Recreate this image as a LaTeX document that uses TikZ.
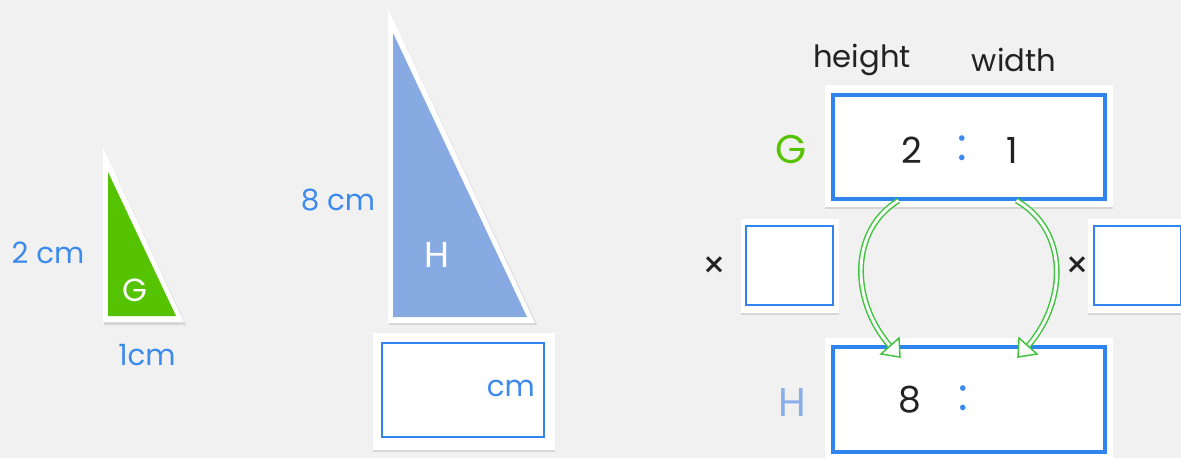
\documentclass[tikz,border=0pt]{standalone}
\usepackage{fontspec}
\setmainfont{Poppins}
\usetikzlibrary{calc}
\definecolor{bg}{HTML}{F1F1F1}
\definecolor{tblue}{HTML}{3C8AEE}
\definecolor{bblue}{HTML}{2F84EE}
\definecolor{tgreen}{HTML}{56C300}
\definecolor{hfill}{HTML}{88AAE2}
\definecolor{hlab}{HTML}{8AAEEA}
\definecolor{agreen}{HTML}{3EC43E}
\definecolor{dark}{HTML}{222222}
\definecolor{shadow}{HTML}{D6D6D6}
\tikzset{
  px/.style={x=0.75pt,y=-0.75pt},
  lbl/.style={inner sep=0pt,font=\fontsize{22}{24}\selectfont},
  bluelbl/.style={lbl,text=tblue},
  numlbl/.style={inner sep=0pt,text=dark,font=\fontsize{27}{30}\selectfont},
  colon/.style={inner sep=0pt,text=tblue,font=\fontsize{34}{36}\selectfont},
  ansbox/.style={draw=bblue,fill=white,line width=1.8pt,inner sep=0pt},
  ratiobox/.style={draw=bblue,fill=white,line width=2.3pt,inner sep=0pt,minimum width=204pt},
  garrow/.style={draw=agreen,line width=1.1pt,double=white!60!bg,double distance=2.2pt},
  ghead/.style={draw=agreen,line width=1.1pt,fill=white,line join=miter},
}
\begin{document}
\begin{tikzpicture}[px]
\useasboundingbox (0,0) rectangle (1181,458);
\fill[bg] (0,0) rectangle (1181,458);
% triangle G
\fill[shadow] (104,149) -- (104,325) -- (186,325) -- cycle;
\fill[white] (103,147) -- (103,322) -- (184,322) -- cycle;
\fill[tgreen] (108,172) -- (108,316) -- (176,316) -- cycle;
\node[lbl,text=white,font=\fontsize{24}{26}\selectfont] (gl) at (135,290) {G};
\node[bluelbl] (g2) at (48,253) {2 cm};
\node[bluelbl] (g1) at (147,355) {1cm};
% triangle H
\fill[shadow] (389,10) -- (389,325) -- (537,325) -- cycle;
\fill[white] (388,8) -- (388,323) -- (535,323) -- cycle;
\fill[hfill] (393,33) -- (393,317) -- (527,317) -- cycle;
\node[lbl,text=white,font=\fontsize{27}{29}\selectfont] (hl) at (437,255) {H};
\node[bluelbl] (h8) at (338,200) {8 cm};
% answer box under H
\fill[shadow] (373,335) rectangle (555,452);
\fill[white] (373,333) rectangle (555,450);
\node[ansbox,minimum width=121.5pt,minimum height=70.5pt] (hans) at (463,390) {};
\node[bluelbl,anchor=east] (hcm) at ($(hans.east)+(-10,-2)$) {cm};
% headings
\node[lbl,text=dark,font=\fontsize{23}{25}\selectfont] (hh) at (862,60) {height};
\node[lbl,text=dark,font=\fontsize{23}{25}\selectfont] (hw) at (1014,60) {width};
% ratio box G
\fill[shadow] (825,87) rectangle (1113,209);
\fill[white] (825,85) rectangle (1113,207);
\node[ratiobox,minimum height=78pt] (gbox) at (969,147) {};
\node[numlbl] (g2r) at (912,150) {2};
\node[colon] (gc) at (962,148) {:};
\node[numlbl] (g1r) at (1012,150) {1};
\node[lbl,text=tgreen,font=\fontsize{30}{32}\selectfont] (gG) at (791,150) {G};
% ratio box H
\fill[shadow] (825,340) rectangle (1113,462);
\fill[white] (825,338) rectangle (1113,460);
\node[ratiobox,minimum height=78.75pt] (hbox) at (969,399.5) {};
\node[numlbl] (h8r) at (910,400) {8};
\node[colon] (hc) at (963,398) {:};
\node[lbl,text=hlab,font=\fontsize{30}{32}\selectfont] (hH) at (792,403) {H};
% multiplier boxes
\fill[shadow] (741,221) rectangle (839,315);
\fill[white] (741,219) rectangle (839,313);
\node[ansbox,line width=1.6pt,minimum width=65.25pt,minimum height=59.25pt] (mleft) at (789.5,265.5) {};
\node[numlbl,font=\fontsize{28}{30}\selectfont] (xl) at (714,268) {×};
\fill[shadow] (1088,221) rectangle (1190,315);
\fill[white] (1088,219) rectangle (1190,313);
\node[ansbox,line width=1.6pt,minimum width=65.25pt,minimum height=59.25pt,anchor=west] (mright) at (1093,265.5) {};
\node[numlbl,font=\fontsize{28}{30}\selectfont] (xr) at (1077,268) {×};
% arrows
\coordinate (la) at ($(gbox.south west)+(67,0)$);
\coordinate (lb) at (890,346);
\coordinate (ra) at ($(gbox.south west)+(185,0)$);
\coordinate (rb) at (1028,346);
\path[garrow] (la) .. controls (850,230) and (850,300) .. (lb);
\path[garrow] (ra) .. controls (1068,230) and (1068,300) .. (rb);
\path[ghead] (881,354) -- (900,357) -- (899,338) -- cycle;
\path[ghead] (1037,354) -- (1018,357) -- (1019,338) -- cycle;
\end{tikzpicture}
\end{document}
